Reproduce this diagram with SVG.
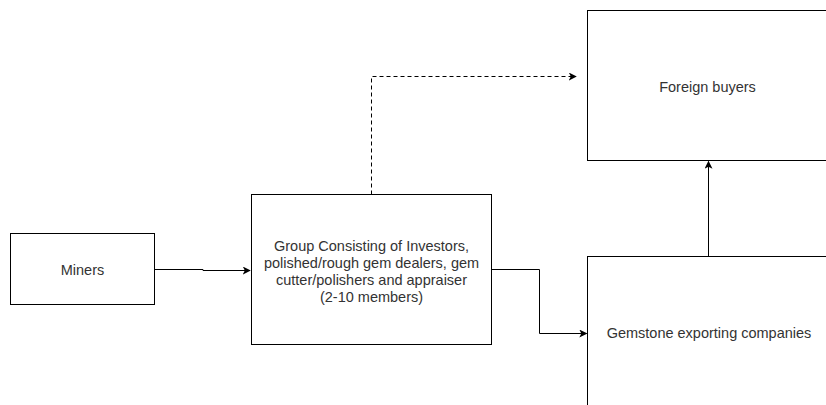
<svg xmlns="http://www.w3.org/2000/svg" width="826" height="405" viewBox="0 0 826 405">
<style>
.box{fill:#fff;stroke:#000;stroke-width:1}
.lbl{font-family:"Liberation Sans",Arial,sans-serif;font-size:14.5px;fill:#333;text-anchor:middle}
.edge{fill:none;stroke:#000;stroke-width:1}
.dash{stroke-dasharray:4 3}
</style>
<defs>
<marker id="arr" viewBox="0 0 10 10" refX="9" refY="5" markerWidth="8" markerHeight="8" markerUnits="userSpaceOnUse" orient="auto">
<path d="M0,0 L10,5 L0,10 L2.5,5 Z" fill="#000"/>
</marker>
</defs>
<rect width="826" height="405" fill="#fff"/>
<g id="miners">
<rect class="box" x="10.5" y="233.5" width="144" height="71"/>
<text class="lbl" x="82.5" y="274.5">Miners</text>
</g>
<g id="group">
<rect class="box" x="251.5" y="194.5" width="240" height="150"/>
<text class="lbl" x="371.5" y="251">Group Consisting of Investors,</text>
<text class="lbl" x="371.5" y="268">polished/rough gem dealers, gem</text>
<text class="lbl" x="371.5" y="285">cutter/polishers and appraiser</text>
<text class="lbl" x="371.5" y="302">(2-10 members)</text>
</g>
<g id="foreign">
<rect class="box" x="587.5" y="10.5" width="260" height="150"/>
<text class="lbl" x="707.5" y="92">Foreign buyers</text>
</g>
<g id="gemstone">
<rect class="box" x="587.5" y="256.5" width="260" height="170"/>
<text class="lbl" x="709" y="338">Gemstone exporting companies</text>
</g>
<g id="connectors">
<path class="edge" d="M154.5,269.5 L203,269.5 L203,270.5 L250,270.5" marker-end="url(#arr)"/>
<path class="edge" d="M491.5,269.5 L539.5,269.5 L539.5,333.5 L586.5,333.5" marker-end="url(#arr)"/>
<path class="edge" d="M708.5,256.5 L708.5,161.5" marker-end="url(#arr)"/>
<path class="edge dash" d="M371.5,194.5 L371.5,76.5 L576,76.5" marker-end="url(#arr)"/>
</g>
</svg>
